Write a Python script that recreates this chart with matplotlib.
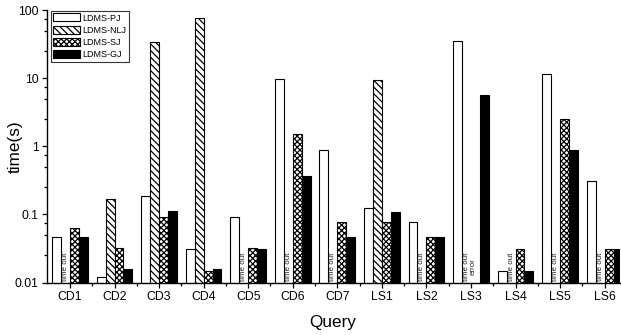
import numpy as np
import matplotlib
matplotlib.use("Agg")
import matplotlib.pyplot as plt
from matplotlib.ticker import FixedLocator, FuncFormatter

plt.rcParams['font.family'] = ['Liberation Sans', 'DejaVu Sans']
plt.rcParams['hatch.linewidth'] = 0.9

queries = ["CD1", "CD2", "CD3", "CD4", "CD5", "CD6", "CD7",
           "LS1", "LS2", "LS3", "LS4", "LS5", "LS6"]
series_names = ["LDMS-PJ", "LDMS-NLJ", "LDMS-SJ", "LDMS-GJ"]
nan = np.nan
pj  = [0.047, 0.012, 0.186, 0.031, 0.093, 9.6, 0.87, 0.125, 0.077, 35.5, 0.015, 11.7, 0.31]
nlj = [nan, 0.17, 34.0, 76.0, nan, nan, nan, 9.25, nan, nan, nan, nan, nan]
sj  = [0.063, 0.032, 0.093, 0.015, 0.032, 1.5, 0.078, 0.078, 0.047, nan, 0.031, 2.5, 0.031]
gj  = [0.046, 0.016, 0.111, 0.016, 0.031, 0.37, 0.047, 0.108, 0.047, 5.6, 0.015, 0.89, 0.031]
# annotations for missing NLJ / SJ results
notes = {0: "time out", 4: "time out", 5: "time out", 6: "time out",
         8: "time out", 9: "time out\nerror", 10: "time out", 11: "time out", 12: "time out"}

series = [pj, nlj, sj, gj]
fills = ["white", "white", "white", "black"]
hatches = [None, "\\\\\\\\\\", "xxxxxx", None]

fig = plt.figure(figsize=(6.21, 3.35), dpi=100)
ax = fig.add_axes([0.0749, 0.1567, 0.9231, 0.8133])

x = np.arange(len(queries))
w = 0.2
offsets = [-0.3, -0.1, 0.1, 0.3]
for vals, fc, h, off, name in zip(series, fills, hatches, offsets, series_names):
    v = np.array(vals, dtype=float)
    ax.bar(x + off, np.where(np.isnan(v), 0, v), width=w, bottom=0.0,
           color=fc, edgecolor="black", linewidth=0.8, hatch=h, label=name)

ax.set_yscale("log")
ax.set_ylim(0.01, 100)
ax.set_xlim(-0.527, 12.34)

for i, txt in notes.items():
    xpos = x[i] - 0.1 if "\n" not in txt else x[i] - 0.02
    ax.text(xpos, 0.0106, txt, rotation=90, fontsize=5.8, color="#222222",
            ha="center", va="bottom", linespacing=0.85)

ax.set_xticks(x)
ax.set_xticklabels(queries, fontsize=8.8)
ax.xaxis.set_minor_locator(FixedLocator(x[:-1] + 0.5))
major_y = [0.01, 0.1, 1, 10, 100]
ax.yaxis.set_major_locator(FixedLocator(major_y))
ax.yaxis.set_major_formatter(FuncFormatter(lambda v, p: ("%g" % v)))
minor_y = [d * m for d in [0.01, 0.1, 1, 10] for m in (2.5, 5, 7.5)]
ax.yaxis.set_minor_locator(FixedLocator(minor_y))
ax.yaxis.set_minor_formatter(FuncFormatter(lambda v, p: ""))
ax.tick_params(axis="both", which="major", direction="out", length=3.8, width=0.9,
               labelsize=8.8, pad=2)
ax.tick_params(axis="both", which="minor", direction="out", length=2.0, width=0.9)

for s in ["top", "right"]:
    ax.spines[s].set_visible(False)
for s in ["left", "bottom"]:
    ax.spines[s].set_linewidth(1.0)

ax.set_xlabel("Query", fontsize=12.3)
ax.set_ylabel("time(s)", fontsize=12.3)
ax.xaxis.set_label_coords(0.5, -0.118)
ax.yaxis.set_label_coords(-0.041, 0.5)

leg = ax.legend(loc="upper left", bbox_to_anchor=(0.008, 0.996), borderaxespad=0,
                fontsize=6.5, frameon=True, fancybox=False, edgecolor="black",
                handlelength=2.9, handleheight=1.0, labelspacing=0.35,
                handletextpad=0.35, borderpad=0.25)
leg.get_frame().set_linewidth(0.8)

fig.savefig("out.png", dpi=100)
